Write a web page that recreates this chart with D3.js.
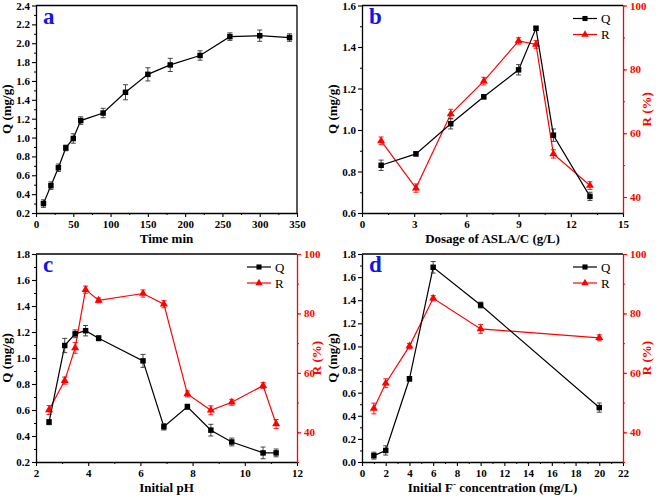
<!DOCTYPE html>
<html><head><meta charset="utf-8">
<script src="https://cdn.jsdelivr.net/npm/d3@7"></script>
<style>body{margin:0;background:#fff}svg{display:block}text{font-family:"Liberation Serif","Times New Roman",serif}</style>
</head><body><svg id="c" width="661" height="501"></svg>
<script>
// Panel a
const aX = [10,20,30,40,50,60,90,120,150,180,220,260,300,340];
const aQ = [0.30,0.49,0.68,0.89,0.99,1.18,1.26,1.48,1.67,1.77,1.87,2.07,2.08,2.06];
const aQe = [0.04,0.04,0.04,0.03,0.05,0.04,0.05,0.08,0.07,0.07,0.05,0.04,0.06,0.04];
// Panel b
const bX = [1.1,3.1,5.1,7,9,10,11,13.1];
const bQ = [0.83,0.885,1.03,1.16,1.29,1.49,0.975,0.68];
const bQe = [0.025,0.01,0.025,0.01,0.025,0.01,0.03,0.02];
const bR = [57.6,42.8,66.0,76.3,88.9,87.8,53.5,43.6];
const bRe = [1.2,1.3,1.5,1.2,1.0,1.2,1.3,1.2];
// Panel c
const cX = [2.5,3.1,3.5,3.9,4.4,6.1,6.9,7.8,8.7,9.5,10.7,11.2];
const cQ = [0.507,1.096,1.186,1.21,1.152,0.978,0.471,0.625,0.445,0.354,0.27,0.27];
const cQe = [0.02,0.055,0.03,0.04,0.02,0.05,0.025,0.02,0.045,0.03,0.045,0.03];
const cR = [47.5,57.4,68.4,88.0,84.4,86.7,83.1,52.9,47.4,50.1,55.7,42.8];
const cRe = [1.5,1.2,1.8,1.2,0.8,1.2,1.2,1.0,1.5,1.0,1.0,1.5];
// Panel d
const dX = [1,2,4,6,10,20];
const dQ = [0.055,0.10,0.72,1.685,1.358,0.471];
const dQe = [0.03,0.04,0.02,0.05,0.025,0.04];
const dR = [48.0,56.5,69.0,85.1,74.8,71.8];
const dRe = [1.8,1.5,0.9,0.9,1.5,1.0];

const svg = d3.select("#c");
const RED = "#ff0000", BLUE = "#1414e6";

function panel(o){
  const g = svg.append("g");
  const x = d3.scaleLinear().domain(o.xd).range([o.l, o.r]);
  const y = d3.scaleLinear().domain(o.yd).range([o.b, o.t]);
  const y2 = o.R ? d3.scaleLinear().domain(o.y2d).range([o.b, o.t]) : null;

  function axis(gen, tx, ty, color, minor){
    const a = g.append("g").attr("transform", `translate(${tx},${ty})`);
    a.call(minor);
    a.selectAll("text").remove();
    a.select(".domain").remove();
    a.selectAll("line").attr("stroke", color).attr("stroke-width", 1);
    const m = g.append("g").attr("transform", `translate(${tx},${ty})`);
    m.call(gen);
    m.select(".domain").attr("stroke", color).attr("stroke-width", 1.3);
    m.selectAll("line").attr("stroke", color).attr("stroke-width", 1.1);
    m.selectAll("text").attr("fill", color).attr("font-size", 11).attr("font-weight", "bold").attr("font-family", "Liberation Serif");
    return m;
  }
  g.append("line").attr("x1", o.l).attr("x2", o.r).attr("y1", o.t).attr("y2", o.t).attr("stroke", "#000").attr("stroke-width", 1.3);
  if (!o.R) g.append("line").attr("x1", o.r).attr("x2", o.r).attr("y1", o.t).attr("y2", o.b).attr("stroke", "#000").attr("stroke-width", 1.3);

  axis(d3.axisBottom(x).tickValues(o.xt).tickSize(4).tickSizeOuter(0).tickPadding(3).tickFormat(d3.format("d")),
       0, o.b, "#000", d3.axisBottom(x).tickValues(o.xm).tickSize(2).tickSizeOuter(0));
  axis(d3.axisLeft(y).tickValues(o.yt).tickSize(4).tickSizeOuter(0).tickPadding(2).tickFormat(d3.format(".1f")),
       o.l, 0, "#000", d3.axisLeft(y).tickValues(o.ym).tickSize(2).tickSizeOuter(0));
  if (o.R) {
    axis(d3.axisRight(y2).tickValues([40,60,80,100]).tickSize(4).tickSizeOuter(0).tickPadding(3).tickFormat(d3.format("d")),
         o.r, 0, RED, d3.axisRight(y2).tickValues(o.y2m).tickSize(2).tickSizeOuter(0));
  }

  function series(X, Y, E, ys, color, shape){
    const pts = X.map((v,i)=>({x:v, y:Y[i], e:E[i]}));
    g.append("path").datum(pts).attr("fill","none").attr("stroke",color).attr("stroke-width",1.2)
      .attr("d", d3.line().x(d=>x(d.x)).y(d=>ys(d.y)));
    const eb = g.append("g").attr("stroke", color === RED ? RED : "#333").attr("stroke-width", 0.9);
    pts.forEach(d=>{
      const x0 = x(d.x), y1 = ys(d.y + d.e), y0 = ys(d.y - d.e);
      eb.append("line").attr("x1",x0).attr("x2",x0).attr("y1",y1).attr("y2",y0);
      eb.append("line").attr("x1",x0-2.5).attr("x2",x0+2.5).attr("y1",y1).attr("y2",y1);
      eb.append("line").attr("x1",x0-2.5).attr("x2",x0+2.5).attr("y1",y0).attr("y2",y0);
    });
    const sym = d3.symbol().type(shape === "sq" ? d3.symbolSquare : d3.symbolTriangle).size(shape === "sq" ? 30 : 28);
    g.append("g").selectAll("path").data(pts).join("path")
      .attr("transform", d=>`translate(${x(d.x)},${ys(d.y)})`).attr("d", sym).attr("fill", color);
  }
  if (o.R) series(o.X, o.R, o.Re, y2, RED, "tri");
  series(o.X, o.Q, o.Qe, y, "#000", "sq");

  g.append("text").attr("x", (o.l+o.r)/2).attr("y", o.b+30).attr("text-anchor","middle")
    .attr("font-size", 13).attr("font-weight","bold").html(o.xtitle);
  g.append("text").attr("transform", `translate(${o.l-25},${(o.t+o.b)/2}) rotate(-90)`).attr("text-anchor","middle")
    .attr("font-size", 13).attr("font-weight","bold").text("Q (mg/g)");
  if (o.R) {
    g.append("text").attr("transform", `translate(${o.r+o.rt},${(o.t+o.b)/2}) rotate(-90)`).attr("text-anchor","middle")
      .attr("font-size", 13).attr("font-weight","bold").attr("fill", RED).text("R (%)");
    const lx = o.r - 50, ly = o.t + 13;
    g.append("line").attr("x1",lx).attr("x2",lx+24).attr("y1",ly).attr("y2",ly).attr("stroke","#000").attr("stroke-width",1.2);
    g.append("path").attr("transform",`translate(${lx+12},${ly})`).attr("d", d3.symbol().type(d3.symbolSquare).size(26)).attr("fill","#000");
    g.append("text").attr("x", lx+28).attr("y", ly+4.5).attr("font-size", 13).text("Q");
    g.append("line").attr("x1",lx).attr("x2",lx+24).attr("y1",ly+16).attr("y2",ly+16).attr("stroke",RED).attr("stroke-width",1.2);
    g.append("path").attr("transform",`translate(${lx+12},${ly+16})`).attr("d", d3.symbol().type(d3.symbolTriangle).size(24)).attr("fill",RED);
    g.append("text").attr("x", lx+28).attr("y", ly+20.5).attr("font-size", 13).text("R");
  }
  g.append("text").attr("x", o.l+7).attr("y", o.t+18).attr("font-size", 23).attr("font-weight","bold").attr("fill", BLUE).text(o.label);
}

panel({label:"a", l:36, r:297, t:5.5, b:213, xd:[0,350], yd:[0.2,2.4],
  xt:d3.range(0,351,50), xm:d3.range(25,351,50), yt:d3.range(2,25,2).map(v=>v/10), ym:d3.range(3,24,2).map(v=>v/10),
  X:aX, Q:aQ, Qe:aQe, xtitle:"Time min"});
panel({label:"b", l:362, r:623, t:5.5, b:213, xd:[0,15], yd:[0.6,1.6], y2d:[35,100], y2m:[40,50,60,70,80,90,100], rt:28,
  xt:[0,3,6,9,12,15], xm:[1.5,4.5,7.5,10.5,13.5], yt:[0.6,0.8,1.0,1.2,1.4,1.6], ym:[0.7,0.9,1.1,1.3,1.5],
  X:bX, Q:bQ, Qe:bQe, R:bR, Re:bRe, xtitle:"Dosage of ASLA/C (g/L)"});
panel({label:"c", l:36, r:297, t:254, b:462, xd:[2,12], yd:[0.2,1.8], y2d:[30,100], y2m:[30,40,50,60,70,80,90,100], rt:24,
  xt:[2,4,6,8,10,12], xm:[3,5,7,9,11], yt:d3.range(2,19,2).map(v=>v/10), ym:d3.range(3,18,2).map(v=>v/10),
  X:cX, Q:cQ, Qe:cQe, R:cR, Re:cRe, xtitle:"Initial pH"});
panel({label:"d", l:362, r:623, t:254, b:462, xd:[0,22], yd:[0,1.8], y2d:[30,100], y2m:[30,40,50,60,70,80,90,100], rt:28,
  xt:d3.range(0,23,2), xm:d3.range(1,22,2), yt:d3.range(0,19,2).map(v=>v/10), ym:d3.range(1,18,2).map(v=>v/10),
  X:dX, Q:dQ, Qe:dQe, R:dR, Re:dRe, xtitle:"Initial F<tspan dy='-5' font-size='9'>-</tspan><tspan dy='5'> concentration (mg/L)</tspan>"});
</script></body></html>
